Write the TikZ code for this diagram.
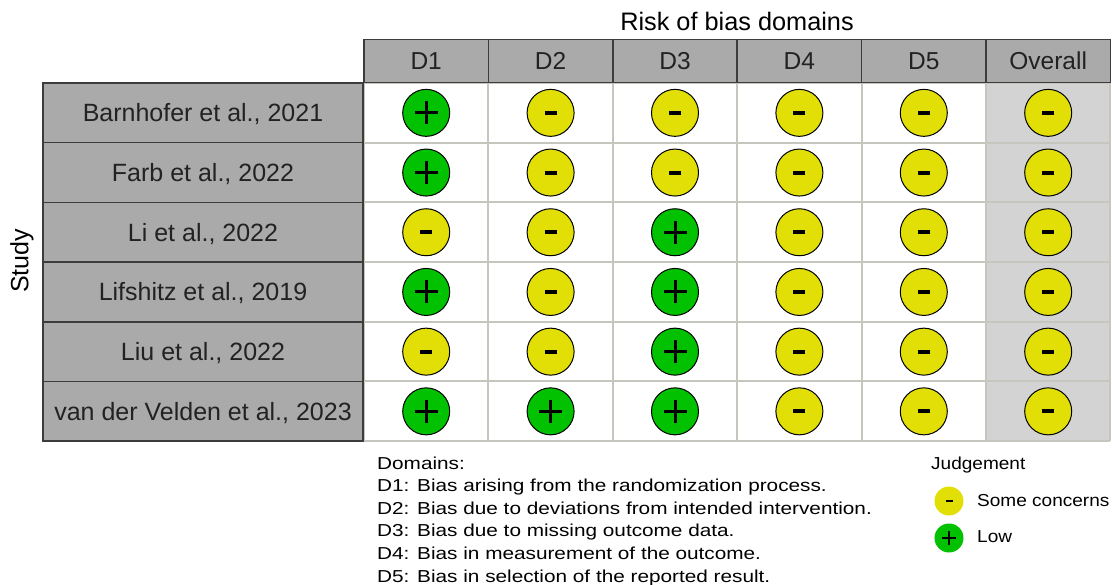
\documentclass[tikz,border=0pt]{standalone}
\usepackage{fontspec}
\setmainfont{Liberation Sans}
\definecolor{hdr}{HTML}{AAAAAA}
\definecolor{edgec}{HTML}{3C3C3C}
\definecolor{gridl}{HTML}{C6C6BE}
\definecolor{ovbg}{HTML}{D3D3D3}
\definecolor{ylw}{HTML}{E2DF07}
\definecolor{grn}{HTML}{02C100}
\definecolor{txt}{HTML}{222222}
\begin{document}
\begin{tikzpicture}[x=1pt,y=-1pt,
  hdrcell/.style={draw=edgec, line width=1.5pt, fill=hdr, minimum width=124.4pt, minimum height=43pt, inner sep=0pt, text=txt, text height=17.5pt, text depth=0pt, font=\fontsize{24.5}{26}\selectfont},
  studycell/.style={draw=edgec, line width=1.5pt, fill=hdr, minimum width=320pt, minimum height=59.7pt, inner sep=0pt, text=txt, text height=17.8pt, text depth=0pt, font=\fontsize{25}{27}\selectfont},
  rc/.style={circle, draw=black, line width=1pt, minimum size=47pt, inner sep=0pt},
  lc/.style={circle, minimum size=29pt, inner sep=0pt},
  sym/.style={line width=3pt, black},
  lsym/.style={line width=1.8pt, black},
  legtxt/.style={anchor=west, inner sep=0pt, text=black, text height=12.4pt, text depth=0pt, font=\fontsize{17.3}{20}\selectfont},
]
\useasboundingbox (0,0) rectangle (1112,585);
% white grid area and overall column
\fill[white] (364,83) rectangle (1110,441);
\fill[ovbg] (986,83) rectangle (1110,441);
\foreach \i in {0,...,6} {
  \draw[gridl, line width=2pt] ({364+124.4*\i},83) -- ({364+124.4*\i},441);
}
\foreach \i in {0,...,6} {
  \draw[gridl, line width=2pt] (364,{83+59.7*\i}) -- (1110,{83+59.7*\i});
}
% title
\node[text=black, inner sep=0pt, text height=18pt, text depth=0pt, font=\fontsize{25.3}{27}\selectfont] (title) at (737,22) {Risk of bias domains};
\node[text=black, rotate=90, font=\fontsize{25}{27}\selectfont] (study) at (22,261) {Study};
% header cells
\foreach \h [count=\c] in {D1,D2,D3,D4,D5,Overall} {
  \node[hdrcell] (h-\c) at ({364+124.4*(\c-0.5)},61) {\h};
}
% study cells
\foreach \s [count=\r] in {{Barnhofer et al., 2021},{Farb et al., 2022},{Li et al., 2022},{Lifshitz et al., 2019},{Liu et al., 2022},{van der Velden et al., 2023}} {
  \node[studycell] (s-\r) at (203,{83+59.7*(\r-0.5)}) {\s};
}
% judgements
\foreach \row [count=\r] in {{1,0,0,0,0,0},{1,0,0,0,0,0},{0,0,1,0,0,0},{1,0,1,0,0,0},{0,0,1,0,0,0},{1,1,1,0,0,0}} {
  \foreach \j [count=\c] in \row {
    \ifnum\j=1
      \node[rc, fill=grn] (c-\r-\c) at ({364+124.4*(\c-0.5)},{83+59.7*(\r-0.5)}) {};
      \draw[sym] (c-\r-\c.center) +(-11.5,0) -- +(11.5,0) (c-\r-\c.center) +(0,-11.5) -- +(0,11.5);
    \else
      \node[rc, fill=ylw] (c-\r-\c) at ({364+124.4*(\c-0.5)},{83+59.7*(\r-0.5)}) {};
      \draw[line width=4pt, black] (c-\r-\c.center) +(-6,0) -- +(6,0);
    \fi
  }
}
% legend: domains
\node[legtxt] (l0) at (377,462.8) {\scalebox{1.2}[1]{Domains:}};
\node[legtxt] (l1) at (377,485.4) {\scalebox{1.2}[1]{D1: Bias arising from the randomization process.}};
\node[legtxt] (l2) at (377,508) {\scalebox{1.2}[1]{D2: Bias due to deviations from intended intervention.}};
\node[legtxt] (l3) at (377,530.6) {\scalebox{1.2}[1]{D3: Bias due to missing outcome data.}};
\node[legtxt] (l4) at (377,553.2) {\scalebox{1.2}[1]{D4: Bias in measurement of the outcome.}};
\node[legtxt] (l5) at (377,575.8) {\scalebox{1.2}[1]{D5: Bias in selection of the reported result.}};
% legend: judgement
\node[legtxt] (jt) at (931,463) {\scalebox{1.1}[1]{Judgement}};
\node[lc, fill=ylw] (lj1) at (949,501) {};
\draw[lsym, line width=2pt] (lj1.center) +(-3.5,0) -- +(3.5,0);
\node[legtxt] (jl1) at (977,500) {\scalebox{1.1}[1]{Some concerns}};
\node[lc, fill=grn] (lj2) at (949,538) {};
\draw[lsym] (lj2.center) +(-7,0) -- +(7,0) (lj2.center) +(0,-7) -- +(0,7);
\node[legtxt] (jl2) at (977,536.5) {\scalebox{1.1}[1]{Low}};
\end{tikzpicture}
\end{document}
